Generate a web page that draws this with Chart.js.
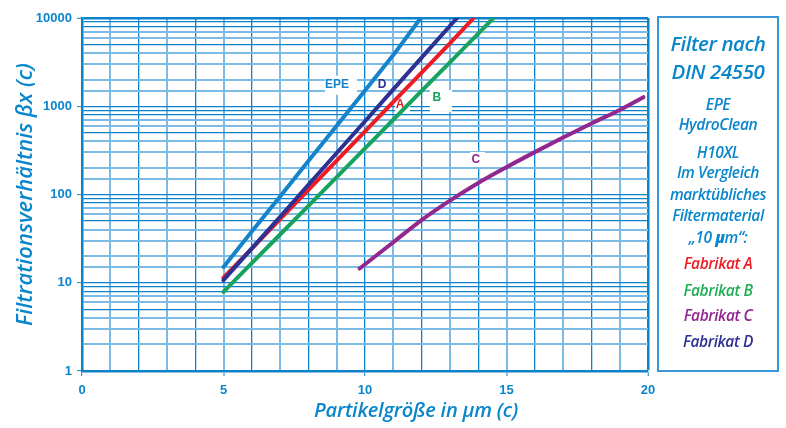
<!DOCTYPE html>
<html>
<head>
<meta charset="utf-8">
<script src="https://cdn.jsdelivr.net/npm/chart.js@4/dist/chart.umd.min.js"></script>
<style>
  html, body { margin: 0; padding: 0; background: #ffffff; }
  #wrap { position: relative; width: 786px; height: 428px; overflow: hidden; background: #fff; }
  #c { position: absolute; left: 0; top: 0; }
  .t { position: absolute; font-family: "Open Sans", "Noto Sans", sans-serif; font-style: italic; font-weight: 600; white-space: nowrap; text-align: center; }
  #xtitle { left: 266px; width: 300px; top: 397px; height: 26px; line-height: 26px; font-size: 20px; color: #0a86cc; letter-spacing: -0.2px; }
  #box { position: absolute; left: 657px; top: 16px; width: 122px; height: 356px; box-sizing: border-box; border: 2px solid #3797d6; }
  .l { position: absolute; left: 658px; width: 120px; font-family: "Open Sans", "Noto Sans", sans-serif; font-style: italic; font-weight: 600; text-align: center; white-space: nowrap; color: #0a86cc; }
  .big { font-size: 20.5px; height: 26px; line-height: 26px; letter-spacing: -0.4px; }
  .sm { font-size: 15.5px; height: 20px; line-height: 20px; letter-spacing: -0.4px; }
</style>
</head>
<body>
<div id="wrap">
  <canvas id="c" width="786" height="428"></canvas>
  <div id="xtitle" class="t">Partikelgröße in μm (c)</div>
  <div id="box"></div>
  <div class="l big" style="top:30px">Filter nach</div>
  <div class="l big" style="top:58px">DIN 24550</div>
  <div class="l sm" style="top:94px">EPE</div>
  <div class="l sm" style="top:114px">HydroClean</div>
  <div class="l sm" style="top:142px">H10XL</div>
  <div class="l sm" style="top:162px">Im Vergleich</div>
  <div class="l sm" style="top:184px">marktübliches</div>
  <div class="l sm" style="top:205px">Filtermaterial</div>
  <div class="l sm" style="top:227px">„10 <b>μ</b>m“:</div>
  <div class="l sm" style="top:253px;color:#ed1c24">Fabrikat A</div>
  <div class="l sm" style="top:280px;color:#1fae55">Fabrikat B</div>
  <div class="l sm" style="top:305px;color:#92278f">Fabrikat C</div>
  <div class="l sm" style="top:331px;color:#2e3192">Fabrikat D</div>
</div>
<script>
// ---- data ----
const epeX = [5, 6, 7, 8, 9, 10, 11, 11.97];
const epeY = [15.1, 38, 95, 240, 600, 1510, 3800, 10000];
const dX = [5, 6, 7, 8, 9, 10, 11, 12, 13.25];
const dY = [10.7, 24.5, 56, 129, 295, 676, 1550, 3550, 10000];
const aX = [5, 6, 7, 8, 9, 10, 11, 12, 13, 13.84];
const aY = [11.4, 24.4, 52.5, 113, 242, 520, 1120, 2400, 5150, 10000];
const bX = [5, 6, 7, 8, 9, 10, 11, 12, 13, 14, 14.54];
const bY = [7.9, 16.7, 35.2, 74.5, 157, 333, 703, 1490, 3140, 6640, 10000];
const cX = [9.81, 11, 12, 13, 14, 15, 16, 17, 18, 19, 19.84];
const cY = [14.5, 28.8, 51.3, 85.1, 135, 204, 302, 442, 638, 908, 1268];

const xTickLabels = [0, 5, 10, 15, 20];
const yTickLabels = [1, 10, 100, 1000, 10000];

// in-chart curve labels (text and data anchor)
const curveLabelText = ['EPE', 'D', 'A', 'B', 'C'];
const curveLabelX = [9.01, 10.6, 11.24, 12.54, 13.92];
const curveLabelY = [1750, 1750, 1038, 1245, 246];

// ---- styles ----
const BLUE = '#0a86cc';
const DARK = '#0b82ca';
const LIGHT = '#7dbbe6';
const COL = { EPE: '#1483cc', D: '#2e3192', A: '#ed1c24', B: '#17a25e', C: '#92278f' };
const labelColors = [COL.EPE, COL.D, COL.A, COL.B, COL.C];
const labelBoxes = [ // left, right, top, bottom padding around text centre
  [12, 20, 9, 10], [4, 6, 4, 4], [5, 10, 7, 7], [7, 15, 8, 14], [6, 9, 8, 7]
];

function pts(xs, ys) { return xs.map((x, i) => ({ x: x, y: ys[i] })); }

function ds(label, xs, ys, color, extra) {
  return Object.assign({
    label: label, data: pts(xs, ys), borderColor: color, backgroundColor: color,
    borderWidth: 4, pointRadius: 0, fill: false, tension: 0, borderCapStyle: 'round', borderJoinStyle: 'round'
  }, extra || {});
}

function isDarkY(v) {
  const m = Math.round(v / Math.pow(10, Math.floor(Math.log10(v) + 1e-9)));
  return m === 1 || m === 5 || m === 8 || m === 9;
}

const labelPlugin = {
  id: 'curveLabels',
  beforeDatasetsDraw(chart) {
    const ctx = chart.ctx, xs = chart.scales.x, ys = chart.scales.y;
    ctx.save();
    ctx.font = 'bold 12px "Liberation Sans Narrow", "Liberation Sans", Arial, sans-serif';
    ctx.textAlign = 'center';
    ctx.textBaseline = 'middle';
    curveLabelText.forEach((t, i) => {
      const px = xs.getPixelForValue(curveLabelX[i]);
      const py = ys.getPixelForValue(curveLabelY[i]);
      const b = labelBoxes[i];
      ctx.fillStyle = '#ffffff';
      ctx.fillRect(px - b[0], py - b[2], b[0] + b[1], b[2] + b[3]);
      ctx.fillStyle = labelColors[i];
      ctx.fillText(t, px, py);
    });
    ctx.restore();
  }
};

const tickFont = { family: '"Liberation Sans", Arial, sans-serif', size: 13, weight: 'bold' };

new Chart(document.getElementById('c'), {
  type: 'line',
  data: {
    datasets: [
      ds('Fabrikat D', dX, dY, COL.D),
      ds('Fabrikat A', aX, aY, COL.A),
      ds('Fabrikat B', bX, bY, COL.B),
      ds('EPE', epeX, epeY, COL.EPE),
      ds('Fabrikat C', cX, cY, COL.C, { cubicInterpolationMode: 'monotone' })
    ]
  },
  options: {
    responsive: false,
    animation: false,
    devicePixelRatio: 1,
    layout: { padding: { left: 0, right: 138, top: 18, bottom: 0 } },
    plugins: { legend: { display: false }, tooltip: { enabled: false } },
    scales: {
      x: {
        type: 'linear', min: 0, max: 20,
        afterFit: s => { s.height = 57; },
        ticks: {
          stepSize: 1, autoSkip: false, maxRotation: 0, padding: 7,
          color: BLUE, font: tickFont,
          callback: v => xTickLabels.includes(v) ? String(v) : ''
        },
        grid: {
          drawTicks: true, tickLength: 5,
          color: c => (c.tick && c.tick.value % 2 === 1) ? LIGHT : DARK,
          lineWidth: c => (c.tick && c.tick.value === 20) ? 2.5 : ((c.tick && c.tick.value % 2 === 1) ? 2 : 1.3),
          tickColor: c => (c.tick && xTickLabels.includes(c.tick.value)) ? DARK : 'rgba(0,0,0,0)',
          tickWidth: 1
        },
        border: { color: DARK, width: 2.5 }
      },
      y: {
        type: 'logarithmic', min: 1, max: 10000,
        afterFit: s => { s.width = 82; },
        ticks: {
          autoSkip: false, padding: 5, color: BLUE, font: tickFont,
          callback: v => yTickLabels.includes(v) ? String(v) : ''
        },
        grid: {
          drawTicks: true, tickLength: 5,
          color: c => (c.tick && isDarkY(c.tick.value)) ? DARK : LIGHT,
          lineWidth: c => (c.tick && c.tick.value === 10000) ? 2.5 : ((c.tick && isDarkY(c.tick.value)) ? 1.3 : 2),
          tickColor: c => (c.tick && yTickLabels.includes(c.tick.value)) ? DARK : 'rgba(0,0,0,0)',
          tickWidth: 1
        },
        border: { color: DARK, width: 2.5 },
        title: {
          display: true, text: 'Filtrationsverhältnis βx (c)', color: BLUE,
          font: { family: '"Open Sans", "Noto Sans", sans-serif', size: 22, style: 'italic', weight: '600' },
          padding: { top: 13, bottom: 0 }
        }
      }
    }
  },
  plugins: [labelPlugin]
});
</script>
</body>
</html>
